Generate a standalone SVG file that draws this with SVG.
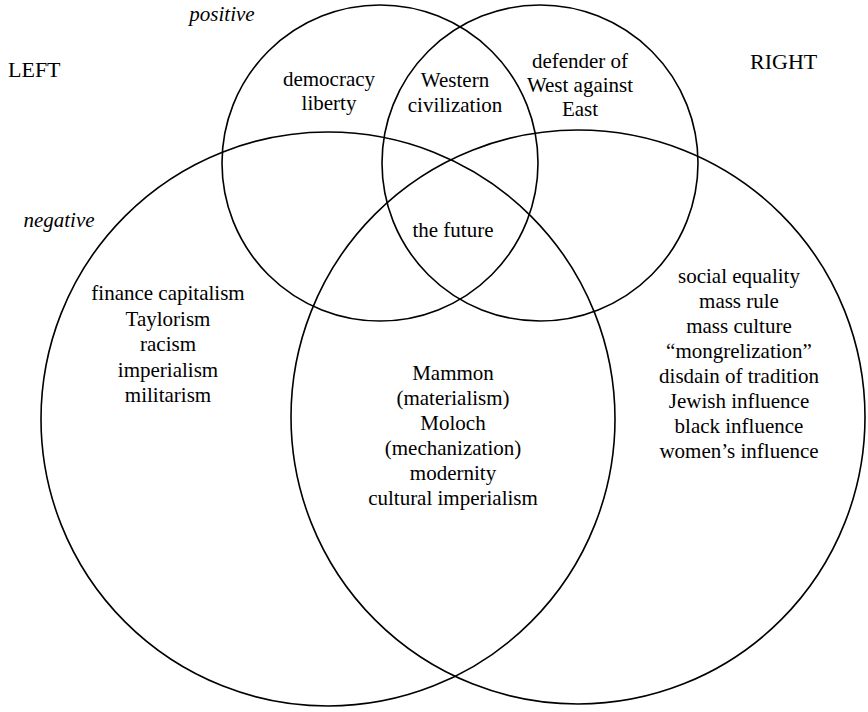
<svg xmlns="http://www.w3.org/2000/svg" width="868" height="712" viewBox="0 0 868 712">
<style>
.c{fill:none;stroke:#000;stroke-width:1.6}
text{font-family:"Liberation Serif","Times New Roman",serif;font-size:21px;fill:#000;text-anchor:middle}
.i{font-style:italic}
.s{text-anchor:start;font-size:22px}
</style>
<rect width="868" height="712" fill="#fff"/>
<g id="connectors"></g>
<g id="circle-positive-left"><circle class="c" cx="380" cy="163" r="158"/></g>
<g id="circle-positive-right"><circle class="c" cx="540" cy="163" r="158"/></g>
<g id="circle-negative-left"><circle class="c" cx="328" cy="419" r="287"/></g>
<g id="circle-negative-right"><circle class="c" cx="578" cy="417" r="287"/></g>
<g id="labels">
<text class="i" x="222" y="21">positive</text>
<text class="i" x="59" y="227">negative</text>
<text class="s" x="8" y="77">LEFT</text>
<text class="s" x="750" y="69">RIGHT</text>
</g>
<g id="democracy"><text x="329" y="86">democracy</text><text x="329" y="110">liberty</text></g>
<g id="western"><text x="455" y="87">Western</text><text x="455" y="112">civilization</text></g>
<g id="defender"><text x="580" y="68">defender of</text><text x="580" y="92">West against</text><text x="580" y="116">East</text></g>
<g id="future"><text x="453" y="237">the future</text></g>
<g id="left-negative"><text x="168" y="300">finance capitalism</text><text x="168" y="326">Taylorism</text><text x="168" y="351">racism</text><text x="168" y="377">imperialism</text><text x="168" y="402">militarism</text></g>
<g id="center-negative"><text x="453" y="380">Mammon</text><text x="453" y="405">(materialism)</text><text x="453" y="430">Moloch</text><text x="453" y="455">(mechanization)</text><text x="453" y="480">modernity</text><text x="453" y="505">cultural imperialism</text></g>
<g id="right-negative"><text x="739" y="283">social equality</text><text x="739" y="308">mass rule</text><text x="739" y="333">mass culture</text><text x="739" y="358">“mongrelization”</text><text x="739" y="383">disdain of tradition</text><text x="739" y="408">Jewish influence</text><text x="739" y="433">black influence</text><text x="739" y="458">women’s influence</text></g>
</svg>
